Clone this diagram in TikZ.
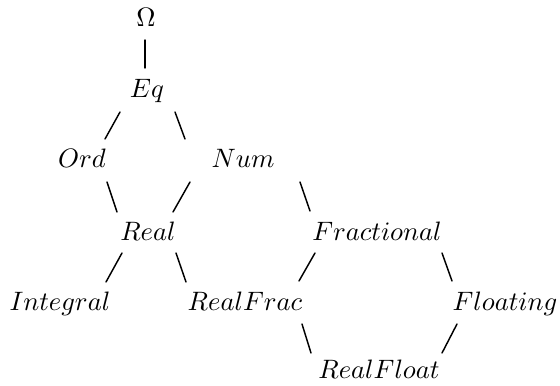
\documentclass[tikz,border=0pt]{standalone}
\usetikzlibrary{positioning}
\tikzset{
  cls/.style={inner sep=0pt, anchor=base},
  link/.style={line width=0.55pt, line cap=round}
}
\begin{document}
\begin{tikzpicture}[x=0.0132cm, y=-0.0132cm]
\useasboundingbox (0,0) rectangle (560,385);

% classes
\node[cls] (omega) at (146,26) {$\Omega$};
\node[cls] (eq) at (147,97) {$Eq$};
\node[cls] (ord) at (82,167) {$Ord$};
\node[cls] (num) at (243,167) {$Num$};
\node[cls] (real) at (148,240) {$Real$};
\node[cls] (fractional) at (377,240) {$Fractional$};
\node[cls] (integral) at (60,310) {$Integral$};
\node[cls] (realfrac) at (245,310) {$RealFrac$};
\node[cls] (floating) at (505,310) {$Floating$};
\node[cls] (realfloat) at (379,378) {$RealFloat$};

% subclass links
\draw[link] ([shift={(-1,14)}]omega.base) -- ([shift={(-2,-29)}]eq.base);
\draw[link] ([shift={(-27,15)}]eq.base) -- ([shift={(23,-28)}]ord.base);
\draw[link] ([shift={(28,15)}]eq.base) -- ([shift={(-58,-28)}]num.base);
\draw[link] ([shift={(25,15)}]ord.base) -- ([shift={(-31,-28)}]real.base);
\draw[link] ([shift={(-53,15)}]num.base) -- ([shift={(25,-28)}]real.base);
\draw[link] ([shift={(-26,13)}]real.base) -- ([shift={(46,-28)}]integral.base);
\draw[link] ([shift={(28,13)}]real.base) -- ([shift={(-59,-28)}]realfrac.base);
\draw[link] ([shift={(57,15)}]num.base) -- ([shift={(-67,-29)}]fractional.base);
\draw[link] ([shift={(-62,13)}]fractional.base) -- ([shift={(54,-29)}]realfrac.base);
\draw[link] ([shift={(65,13)}]fractional.base) -- ([shift={(-53,-29)}]floating.base);
\draw[link] ([shift={(57,14)}]realfrac.base) -- ([shift={(-68,-25)}]realfloat.base);
\draw[link] ([shift={(-48,14)}]floating.base) -- ([shift={(63,-25)}]realfloat.base);
\end{tikzpicture}
\end{document}
